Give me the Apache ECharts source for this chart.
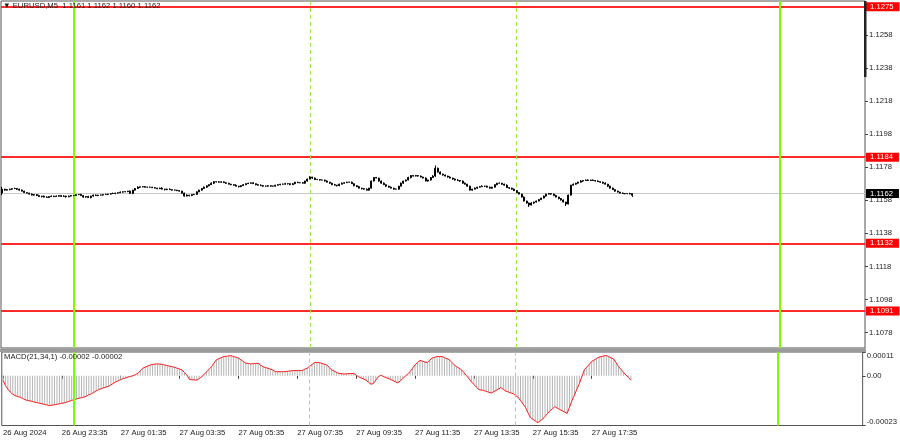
<!DOCTYPE html>
<html><head><meta charset="utf-8">
<script src="https://cdn.jsdelivr.net/npm/echarts@6/dist/echarts.min.js"></script>
<style>html,body{margin:0;padding:0;background:#fff}#c{width:900px;height:441px}</style>
</head><body><div id="c"></div>
<script>
// ---- data (EURUSD M5, 26 Aug 21:35 -> 27 Aug ~18:55) ----
const opens=[1.11623,1.11647,1.11641,1.11644,1.11647,1.11650,1.11651,1.11647,1.11641,1.11635,
1.11626,1.11623,1.11617,1.11611,1.11614,1.11608,1.11602,1.11605,1.11599,1.11597,
1.11602,1.11605,1.11602,1.11605,1.11608,1.11603,1.11605,1.11601,1.11605,1.11608,
1.11608,1.11614,1.11615,1.11608,1.11599,1.11602,1.11596,1.11605,1.11611,1.11608,
1.11611,1.11611,1.11614,1.11615,1.11617,1.11620,1.11621,1.11623,1.11625,1.11629,
1.11631,1.11632,1.11635,1.11621,1.11641,1.11651,1.11659,1.11661,1.11662,1.11659,
1.11659,1.11659,1.11656,1.11653,1.11650,1.11653,1.11647,1.11644,1.11647,1.11644,
1.11641,1.11641,1.11638,1.11635,1.11623,1.11605,1.11611,1.11608,1.11614,1.11615,
1.11631,1.11641,1.11651,1.11659,1.11667,1.11674,1.11683,1.11692,1.11691,1.11689,
1.11691,1.11686,1.11682,1.11677,1.11674,1.11671,1.11665,1.11662,1.11668,1.11674,
1.11680,1.11683,1.11685,1.11680,1.11674,1.11671,1.11668,1.11665,1.11665,1.11668,
1.11665,1.11665,1.11671,1.11674,1.11677,1.11677,1.11680,1.11680,1.11674,1.11680,
1.11689,1.11686,1.11686,1.11683,1.11696,1.11708,1.11720,1.11714,1.11705,1.11705,
1.11702,1.11702,1.11696,1.11689,1.11683,1.11674,1.11671,1.11668,1.11677,1.11683,
1.11686,1.11689,1.11689,1.11680,1.11668,1.11662,1.11653,1.11650,1.11647,1.11641,
1.11653,1.11696,1.11717,1.11714,1.11696,1.11683,1.11674,1.11665,1.11659,1.11653,
1.11647,1.11647,1.11665,1.11683,1.11696,1.11702,1.11717,1.11729,1.11726,1.11729,
1.11726,1.11720,1.11714,1.11696,1.11702,1.11717,1.11726,1.11774,1.11750,1.11738,
1.11732,1.11726,1.11720,1.11714,1.11708,1.11702,1.11699,1.11696,1.11683,1.11677,
1.11665,1.11641,1.11647,1.11653,1.11659,1.11662,1.11665,1.11665,1.11659,1.11653,
1.11659,1.11674,1.11683,1.11683,1.11677,1.11671,1.11656,1.11653,1.11647,1.11638,
1.11626,1.11617,1.11599,1.11575,1.11563,1.11551,1.11563,1.11569,1.11575,1.11584,
1.11593,1.11605,1.11617,1.11620,1.11617,1.11608,1.11599,1.11590,1.11581,1.11569,
1.11557,1.11611,1.11671,1.11677,1.11683,1.11689,1.11696,1.11699,1.11702,1.11699,
1.11702,1.11699,1.11696,1.11692,1.11689,1.11683,1.11677,1.11665,1.11653,1.11644,
1.11635,1.11629,1.11623,1.11620,1.11620,1.11620,1.11610];
const highs=[1.11661,1.11649,1.11648,1.11649,1.11653,1.11656,1.11653,1.11650,1.11645,1.11637,
1.11629,1.11625,1.11621,1.11616,1.11617,1.11613,1.11607,1.11608,1.11603,1.11604,
1.11608,1.11607,1.11609,1.11610,1.11611,1.11610,1.11607,1.11608,1.11612,1.11610,
1.11617,1.11617,1.11619,1.11610,1.11605,1.11607,1.11607,1.11614,1.11615,1.11613,
1.11614,1.11616,1.11619,1.11619,1.11623,1.11626,1.11625,1.11628,1.11633,1.11633,
1.11635,1.11637,1.11639,1.11643,1.11654,1.11664,1.11663,1.11665,1.11666,1.11661,
1.11662,1.11661,1.11660,1.11655,1.11656,1.11658,1.11649,1.11650,1.11651,1.11646,
1.11644,1.11643,1.11642,1.11637,1.11626,1.11616,1.11613,1.11617,1.11619,1.11633,
1.11644,1.11653,1.11663,1.11669,1.11677,1.11688,1.11694,1.11695,1.11695,1.11693,
1.11694,1.11688,1.11686,1.11679,1.11677,1.11676,1.11667,1.11671,1.11678,1.11682,
1.11686,1.11687,1.11689,1.11682,1.11677,1.11676,1.11670,1.11668,1.11672,1.11670,
1.11668,1.11673,1.11678,1.11679,1.11680,1.11685,1.11682,1.11683,1.11684,1.11691,
1.11692,1.11688,1.11690,1.11698,1.11711,1.11725,1.11722,1.11717,1.11709,1.11707,
1.11705,1.11704,1.11700,1.11691,1.11686,1.11679,1.11673,1.11680,1.11687,1.11688,
1.11692,1.11691,1.11693,1.11682,1.11671,1.11667,1.11655,1.11653,1.11651,1.11655,
1.11699,1.11719,1.11721,1.11716,1.11699,1.11688,1.11676,1.11668,1.11663,1.11655,
1.11650,1.11667,1.11687,1.11698,1.11705,1.11722,1.11731,1.11732,1.11733,1.11731,
1.11729,1.11722,1.11718,1.11704,1.11720,1.11731,1.11790,1.11777,1.11754,1.11740,
1.11735,1.11728,1.11724,1.11716,1.11711,1.11707,1.11701,1.11699,1.11687,1.11679,
1.11668,1.11649,1.11657,1.11661,1.11665,1.11670,1.11667,1.11668,1.11663,1.11661,
1.11677,1.11685,1.11687,1.11685,1.11680,1.11676,1.11658,1.11656,1.11651,1.11640,
1.11629,1.11619,1.11603,1.11577,1.11566,1.11568,1.11571,1.11578,1.11588,1.11595,
1.11608,1.11619,1.11624,1.11622,1.11620,1.11613,1.11601,1.11593,1.11585,1.11571,
1.11614,1.11673,1.11681,1.11685,1.11692,1.11701,1.11701,1.11705,1.11706,1.11704,
1.11705,1.11701,1.11700,1.11694,1.11692,1.11688,1.11679,1.11668,1.11657,1.11646,
1.11638,1.11631,1.11627,1.11622,1.11623,1.11625,1.11620];
const lows=[1.11611,1.11638,1.11639,1.11640,1.11644,1.11648,1.11642,1.11638,1.11633,1.11623,
1.11621,1.11614,1.11609,1.11607,1.11605,1.11600,1.11597,1.11596,1.11595,1.11594,
1.11600,1.11599,1.11600,1.11601,1.11600,1.11601,1.11596,1.11598,1.11603,1.11605,
1.11606,1.11611,1.11606,1.11595,1.11596,1.11594,1.11591,1.11602,1.11606,1.11605,
1.11609,1.11608,1.11612,1.11611,1.11614,1.11618,1.11616,1.11620,1.11623,1.11626,
1.11629,1.11629,1.11619,1.11617,1.11638,1.11649,1.11654,1.11658,1.11657,1.11656,
1.11657,1.11653,1.11651,1.11646,1.11647,1.11645,1.11639,1.11641,1.11642,1.11638,
1.11639,1.11635,1.11633,1.11619,1.11602,1.11603,1.11603,1.11605,1.11612,1.11612,
1.11629,1.11638,1.11649,1.11655,1.11664,1.11672,1.11678,1.11688,1.11687,1.11686,
1.11684,1.11679,1.11675,1.11670,1.11668,1.11663,1.11657,1.11659,1.11666,1.11671,
1.11678,1.11680,1.11678,1.11670,1.11668,1.11666,1.11660,1.11662,1.11663,1.11662,
1.11663,1.11662,1.11669,1.11670,1.11674,1.11675,1.11675,1.11671,1.11672,1.11677,
1.11684,1.11683,1.11681,1.11679,1.11693,1.11706,1.11709,1.11702,1.11703,1.11699,
1.11700,1.11693,1.11687,1.11679,1.11671,1.11669,1.11663,1.11665,1.11675,1.11680,
1.11684,1.11686,1.11678,1.11664,1.11659,1.11651,1.11645,1.11644,1.11639,1.11638,
1.11651,1.11693,1.11712,1.11692,1.11680,1.11672,1.11660,1.11656,1.11651,1.11644,
1.11645,1.11644,1.11663,1.11679,1.11693,1.11700,1.11712,1.11723,1.11724,1.11723,
1.11718,1.11711,1.11694,1.11692,1.11699,1.11715,1.11721,1.11747,1.11736,1.11729,
1.11724,1.11717,1.11712,1.11704,1.11699,1.11697,1.11691,1.11680,1.11675,1.11662,
1.11639,1.11638,1.11645,1.11649,1.11656,1.11660,1.11660,1.11656,1.11651,1.11650,
1.11657,1.11671,1.11681,1.11673,1.11668,1.11654,1.11648,1.11644,1.11636,1.11623,
1.11615,1.11596,1.11573,1.11559,1.11540,1.11549,1.11558,1.11566,1.11573,1.11581,
1.11591,1.11602,1.11615,1.11613,1.11605,1.11597,1.11585,1.11578,1.11567,1.11545,
1.11555,1.11608,1.11669,1.11673,1.11680,1.11687,1.11691,1.11696,1.11697,1.11696,
1.11697,1.11693,1.11690,1.11685,1.11680,1.11675,1.11660,1.11650,1.11642,1.11632,
1.11627,1.11620,1.11618,1.11616,1.11617,1.11616,1.11600];
const closes=[1.11647,1.11641,1.11644,1.11647,1.11650,1.11651,1.11647,1.11641,1.11635,1.11626,
1.11623,1.11617,1.11611,1.11614,1.11608,1.11602,1.11605,1.11599,1.11597,1.11602,
1.11605,1.11602,1.11605,1.11608,1.11603,1.11605,1.11601,1.11605,1.11608,1.11608,
1.11614,1.11615,1.11608,1.11599,1.11602,1.11596,1.11605,1.11611,1.11608,1.11611,
1.11611,1.11614,1.11615,1.11617,1.11620,1.11621,1.11623,1.11625,1.11629,1.11631,
1.11632,1.11635,1.11621,1.11641,1.11651,1.11659,1.11661,1.11662,1.11659,1.11659,
1.11659,1.11656,1.11653,1.11650,1.11653,1.11647,1.11644,1.11647,1.11644,1.11641,
1.11641,1.11638,1.11635,1.11623,1.11605,1.11611,1.11608,1.11614,1.11615,1.11631,
1.11641,1.11651,1.11659,1.11667,1.11674,1.11683,1.11692,1.11691,1.11689,1.11691,
1.11686,1.11682,1.11677,1.11674,1.11671,1.11665,1.11662,1.11668,1.11674,1.11680,
1.11683,1.11685,1.11680,1.11674,1.11671,1.11668,1.11665,1.11665,1.11668,1.11665,
1.11665,1.11671,1.11674,1.11677,1.11677,1.11680,1.11680,1.11674,1.11680,1.11689,
1.11686,1.11686,1.11683,1.11696,1.11708,1.11720,1.11714,1.11705,1.11705,1.11702,
1.11702,1.11696,1.11689,1.11683,1.11674,1.11671,1.11668,1.11677,1.11683,1.11686,
1.11689,1.11689,1.11680,1.11668,1.11662,1.11653,1.11650,1.11647,1.11641,1.11653,
1.11696,1.11717,1.11714,1.11696,1.11683,1.11674,1.11665,1.11659,1.11653,1.11647,
1.11647,1.11665,1.11683,1.11696,1.11702,1.11717,1.11729,1.11726,1.11729,1.11726,
1.11720,1.11714,1.11696,1.11702,1.11717,1.11726,1.11774,1.11750,1.11738,1.11732,
1.11726,1.11720,1.11714,1.11708,1.11702,1.11699,1.11696,1.11683,1.11677,1.11665,
1.11641,1.11647,1.11653,1.11659,1.11662,1.11665,1.11665,1.11659,1.11653,1.11659,
1.11674,1.11683,1.11683,1.11677,1.11671,1.11656,1.11653,1.11647,1.11638,1.11626,
1.11617,1.11599,1.11575,1.11563,1.11551,1.11563,1.11569,1.11575,1.11584,1.11593,
1.11605,1.11617,1.11620,1.11617,1.11608,1.11599,1.11590,1.11581,1.11569,1.11557,
1.11611,1.11671,1.11677,1.11683,1.11689,1.11696,1.11699,1.11702,1.11699,1.11702,
1.11699,1.11696,1.11692,1.11689,1.11683,1.11677,1.11665,1.11653,1.11644,1.11635,
1.11629,1.11623,1.11620,1.11620,1.11620,1.11618,1.11620];
// MACD(21,34,1) values (signal = MACD since period 1)
const macd=[-20e-6,-45e-6,-62e-6,-76e-6,-86e-6,-92e-6,-96e-6,-99e-6,-105e-6,-111e-6,
-114e-6,-116e-6,-119e-6,-122e-6,-125e-6,-127e-6,-130e-6,-133e-6,-135e-6,-138e-6,
-136e-6,-134e-6,-132e-6,-130e-6,-127e-6,-125e-6,-122e-6,-118e-6,-114e-6,-110e-6,
-107e-6,-104e-6,-101e-6,-99e-6,-94e-6,-88e-6,-83e-6,-77e-6,-70e-6,-64e-6,
-60e-6,-56e-6,-52e-6,-49e-6,-42e-6,-35e-6,-28e-6,-23e-6,-18e-6,-13e-6,
-10e-6,-6e-6,-3e-6,0,6e-6,11e-6,23e-6,35e-6,40e-6,45e-6,
50e-6,52e-6,54e-6,55e-6,54e-6,52e-6,50e-6,47e-6,44e-6,42e-6,
39e-6,35e-6,31e-6,27e-6,15e-6,3e-6,-17e-6,-18e-6,-19e-6,-20e-6,
-13e-6,-5e-6,7e-6,19e-6,30e-6,42e-6,58e-6,74e-6,79e-6,84e-6,
89e-6,90e-6,92e-6,93e-6,89e-6,86e-6,82e-6,74e-6,66e-6,58e-6,
57e-6,55e-6,56e-6,57e-6,58e-6,50e-6,42e-6,38e-6,35e-6,31e-6,
27e-6,19e-6,19e-6,19e-6,19e-6,19e-6,21e-6,22e-6,24e-6,24e-6,
24e-6,24e-6,24e-6,30e-6,35e-6,44e-6,52e-6,61e-6,61e-6,61e-6,
57e-6,54e-6,50e-6,39e-6,27e-6,22e-6,16e-6,11e-6,10e-6,8e-6,
9e-6,10e-6,10e-6,11e-6,3e-6,-5e-6,-10e-6,-15e-6,-20e-6,-30e-6,
-39e-6,-36e-6,-20e-6,-5e-6,3e-6,-3e-6,-8e-6,-12e-6,-17e-6,-22e-6,
-28e-6,-33e-6,-23e-6,-13e-6,-2e-6,8e-6,19e-6,35e-6,50e-6,61e-6,
71e-6,68e-6,64e-6,61e-6,72e-6,82e-6,86e-6,89e-6,89e-6,89e-6,
84e-6,79e-6,74e-6,62e-6,50e-6,42e-6,35e-6,27e-6,14e-6,0,
-14e-6,-28e-6,-40e-6,-52e-6,-64e-6,-66e-6,-68e-6,-72e-6,-76e-6,-80e-6,
-74e-6,-68e-6,-62e-6,-55e-6,-63e-6,-71e-6,-75e-6,-79e-6,-83e-6,-91e-6,
-99e-6,-115e-6,-130e-6,-146e-6,-170e-6,-193e-6,-201e-6,-209e-6,-217e-6,-209e-6,
-201e-6,-188e-6,-175e-6,-162e-6,-153e-6,-143e-6,-150e-6,-156e-6,-162e-6,-168e-6,
-174e-6,-145e-6,-115e-6,-89e-6,-62e-6,-36e-6,-5e-6,27e-6,40e-6,53e-6,
66e-6,73e-6,80e-6,86e-6,89e-6,92e-6,94e-6,88e-6,83e-6,77e-6,
60e-6,42e-6,29e-6,16e-6,3e-6,-8e-6,-20e-6];
const priceTicks=[1.1078,1.1098,1.1118,1.1138,1.1158,1.1178,1.1198,1.1218,1.1238,1.1258];
const macdTicks=[-0.00023,0,0.00011];
const levels=[1.1275,1.1184,1.1132,1.1091];
const lastPrice=1.1162;
const xTickLabels=['26 Aug 2024','26 Aug 23:35','27 Aug 01:35','27 Aug 03:35','27 Aug 05:35','27 Aug 07:35','27 Aug 09:35','27 Aug 11:35','27 Aug 13:35','27 Aug 15:35','27 Aug 17:35'];
const dayLineBars=[29,316];      // 27 Aug 00:00, 28 Aug 00:00
const sessionLineBars=[125,209]; // 27 Aug 08:00, 15:00
const SLOTS=351, START_MIN=21*60+35, STEP=5, TICK_EVERY=24;

// ---- categories (bar times) ----
const MON='Aug';
const cats=[];
for(let i=0;i<SLOTS;i++){const t=START_MIN+STEP*i;const d=26+Math.floor(t/1440);const m=t%1440;
 cats.push(d+' '+MON+' '+String(Math.floor(m/60)).padStart(2,'0')+':'+String(m%60).padStart(2,'0'));}
const candleData=opens.map((o,i)=>[o,closes[i],lows[i],highs[i]]);

const FONT='"Liberation Sans", Arial, "DejaVu Sans", sans-serif';
const FS=7.7, TXT='#222';
const tickInt=(i)=> i%TICK_EVERY===0 && i/TICK_EVERY<xTickLabels.length;

const vLines=()=>[
  ...dayLineBars.map(b=>({xAxis:cats[b],lineStyle:{color:'#7CFC00',width:2,type:'solid'},label:{show:false}})),
  ...sessionLineBars.map(b=>({xAxis:cats[b],lineStyle:{color:'#9BEA3C',width:1,type:[4,3]},label:{show:false}}))
];
const levelLine=(v,bg,lc,lw)=>({yAxis:v,lineStyle:{color:lc,width:lw,type:'solid'},
  label:{show:true,position:'end',distance:1,formatter:()=>v.toFixed(4),color:'#fff',backgroundColor:bg,
  fontSize:FS,fontFamily:FONT,lineHeight:8,padding:[1,6,0,4]}});

const chart=echarts.init(document.getElementById('c'),null,{renderer:'canvas'});
chart.setOption({
  animation:false,
  backgroundColor:'#fff',
  title:[
    {text:'▼ EURUSD,M5  1.1161 1.1162 1.1160 1.1162',left:3,top:2,padding:0,
     textStyle:{fontSize:FS,fontWeight:'normal',color:TXT,fontFamily:FONT}},
    {text:'MACD(21,34,1) -0.00002 -0.00002',left:4,top:353,padding:0,
     textStyle:{fontSize:FS,fontWeight:'normal',color:TXT,fontFamily:FONT}}
  ],
  grid:[
    {left:1,right:35,top:1,height:347,show:true,borderColor:'#555',borderWidth:1,backgroundColor:'#fff'},
    {left:1,right:35,top:352,height:73.5,show:true,borderColor:'#555',borderWidth:1,backgroundColor:'#fff'}
  ],
  xAxis:[
    {type:'category',gridIndex:0,data:cats,boundaryGap:true,axisLine:{show:false},axisTick:{show:false},axisLabel:{show:false},splitLine:{show:false}},
    {type:'category',gridIndex:1,data:cats,boundaryGap:true,axisLine:{show:false},
     axisTick:{show:true,alignWithLabel:true,interval:tickInt,length:3,lineStyle:{color:'#444'}},
     axisLabel:{interval:tickInt,formatter:(v,i)=>xTickLabels[i/TICK_EVERY],align:'left',fontSize:FS,color:TXT,fontFamily:FONT,margin:3},
     splitLine:{show:false}}
  ],
  yAxis:[
    {type:'value',gridIndex:0,position:'right',min:1.10687,max:1.12784,splitLine:{show:false},axisLine:{show:false},
     axisTick:{show:true,customValues:priceTicks,length:3,lineStyle:{color:'#444'}},
     axisLabel:{customValues:priceTicks,formatter:v=>v.toFixed(4),fontSize:FS,color:TXT,fontFamily:FONT,margin:4}},
    {type:'value',gridIndex:1,position:'right',min:-0.00023,max:0.00011,splitLine:{show:false},axisLine:{show:false},
     axisTick:{show:true,customValues:macdTicks,length:3,lineStyle:{color:'#444'}},
     axisLabel:{customValues:macdTicks,formatter:v=>v===0?'0.00':v.toFixed(5),fontSize:FS,color:TXT,fontFamily:FONT,margin:4,
       verticalAlignMinLabel:'bottom',verticalAlignMaxLabel:'top'}}
  ],
  series:[
    {type:'candlestick',xAxisIndex:0,yAxisIndex:0,data:candleData,barWidth:1.5,z:3,
     itemStyle:{color:'#000',color0:'#000',borderColor:'#000',borderColor0:'#000',borderWidth:1},
     markLine:{silent:true,symbol:['none','none'],animation:false,precision:6,z:2,
       data:[levelLine(lastPrice,'#000','#C8C8C8',1),...levels.map(v=>levelLine(v,'#FF0000','#FF2A2A',2)),...vLines()]}},
    {type:'bar',xAxisIndex:1,yAxisIndex:1,data:macd,barWidth:1,itemStyle:{color:'#B4B4B4'},
     markLine:{silent:true,symbol:['none','none'],animation:false,precision:6,data:vLines()}},
    {type:'line',xAxisIndex:1,yAxisIndex:1,data:macd,symbol:'none',lineStyle:{color:'#FF1A1A',width:1},z:3}
  ],
  graphic:[
    {type:'rect',shape:{x:0,y:348.5,width:866,height:3.5},style:{fill:'#9a9a9a'},z:100},
    {type:'rect',shape:{x:864,y:1,width:2.5,height:76},style:{fill:'#222'},z:100}
  ]
});
</script></body></html>
